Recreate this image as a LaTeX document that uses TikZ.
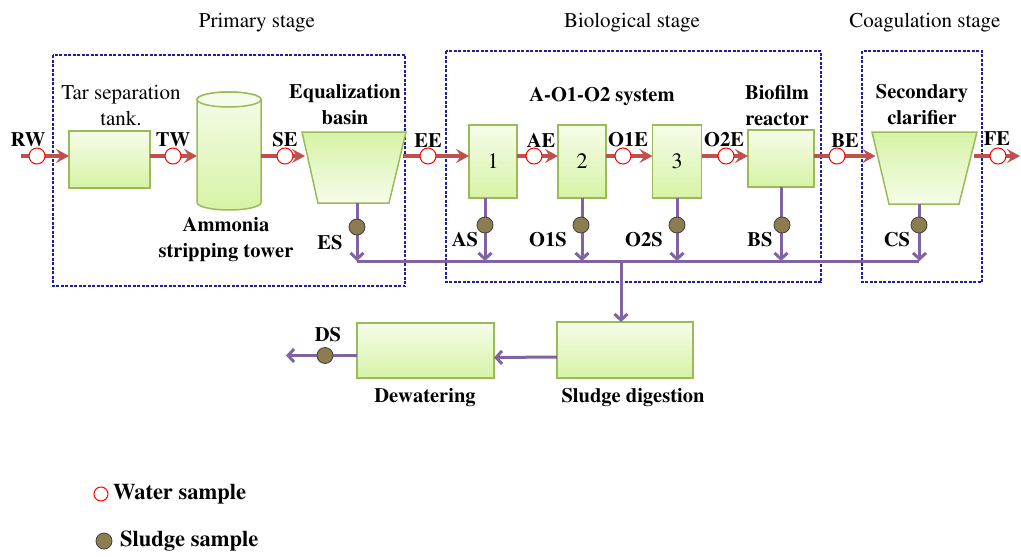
\documentclass[tikz,border=0pt]{standalone}
\usepackage[T1]{fontenc}
\renewcommand{\rmdefault}{ptm}
\usetikzlibrary{arrows.meta}
\definecolor{greenlight}{RGB}{246,252,234}
\definecolor{greenmid}{RGB}{214,243,165}
\definecolor{boxedge}{RGB}{155,187,89}
\definecolor{waterred}{RGB}{192,80,77}
\definecolor{sludgepurple}{RGB}{128,100,162}
\definecolor{sludgedot}{RGB}{139,125,80}
\definecolor{stageblue}{RGB}{30,30,160}
\tikzset{
unit/.style={draw=boxedge, line width=1.5pt, top color=greenlight, bottom color=greenmid, inner sep=0pt, outer sep=0pt},
basin/.style={draw=boxedge, line width=1.5pt, top color=greenmid, bottom color=greenlight},
anchorbox/.style={inner sep=0pt, outer sep=0pt},
water/.style={draw=waterred, line width=3.5pt, -{Stealth[length=13pt,width=14pt,inset=5pt]}},
sludge/.style={draw=sludgepurple, line width=3pt},
sludgeflow/.style={sludge, -{Straight Barb[length=6pt,width=13pt]}},
wsample/.style={circle, draw=red, fill=white, line width=1pt, minimum size=16pt, inner sep=0pt},
ssample/.style={circle, draw=black!75, fill=sludgedot, line width=0.8pt, minimum size=16pt, inner sep=0pt},
stage/.style={draw=stageblue, line width=1.3pt, dash pattern=on 3pt off 1.5pt},
tag/.style={font=\fontsize{20.5}{26}\selectfont\bfseries, inner sep=0pt, align=center},
plaintag/.style={font=\fontsize{21}{26}\selectfont, inner sep=0pt, align=center}
}

\begin{document}
\begin{tikzpicture}[x=1pt,y=1pt,yscale=-1,xscale=1]
\useasboundingbox (0,0) rectangle (1021,557);

% stage frames
\draw[stage] (53,55) rectangle (405,286);
\draw[stage] (446,51) rectangle (821,282);
\draw[stage] (862,51) rectangle (982,282);
\node[plaintag] (primary) at (257,23) {Primary stage};
\node[plaintag] (biological) at (632,23) {Biological stage};
\node[plaintag] (coagulation) at (925,23) {Coagulation stage};

% units
\node[unit, minimum width=81pt, minimum height=57pt] (tar) at (109.5,159.5) {};
% ammonia stripping tower
\path[unit] (197,99.5) -- (197,202.5) arc[start angle=180, end angle=0, x radius=32, y radius=7.5] -- (261,99.5) arc[start angle=0, end angle=-180, x radius=32, y radius=7.5] -- cycle;
\draw[draw=boxedge, line width=1.5pt, fill=greenlight] (229,99.5) ellipse [x radius=32, y radius=7.5];
\node[anchorbox, minimum width=64pt, minimum height=118pt] (tower) at (229,151) {};
% equalization basin
\path[basin] (302,132) -- (406,132) -- (389,203) -- (318,203) -- cycle;
\node[anchorbox, minimum width=98pt, minimum height=71pt] (eq) at (354,167.5) {};
\node[unit, minimum width=48pt, minimum height=73pt, font=\fontsize{22}{26}\selectfont] (a1) at (493,161.5) {1};
\node[unit, minimum width=48pt, minimum height=73pt, font=\fontsize{22}{26}\selectfont] (o1) at (582,161.5) {2};
\node[unit, minimum width=49pt, minimum height=73pt, font=\fontsize{22}{26}\selectfont] (o2) at (677,161.5) {3};
\node[unit, minimum width=66pt, minimum height=57pt] (bio) at (781,158.5) {};
% secondary clarifier
\path[basin] (872,132) -- (977,132) -- (959,204) -- (889,204) -- cycle;
\node[anchorbox, minimum width=98pt, minimum height=72pt] (sc) at (924.5,168) {};
\node[unit, minimum width=137pt, minimum height=55pt] (dw) at (425.5,350.5) {};
\node[unit, minimum width=136pt, minimum height=56pt] (dg) at (625,350) {};

% unit names
\node[plaintag] (tartxt) at (121,105) {Tar separation\\tank.};
\node[tag] (towertxt) at (226,240) {Ammonia\\stripping tower};
\node[tag] (eqtxt) at (345,105) {Equalization\\basin};
\node[tag] (aootxt) at (602,97) {A-O1-O2 system};
\node[tag] (biotxt) at (777,105.5) {Biofilm\\reactor};
\node[tag] (sctxt) at (922,105) {Secondary\\clarifier};
\node[tag] (dwtxt) at (425,398) {Dewatering};
\node[tag] (dgtxt) at (633,398) {Sludge digestion};

% water line
\coordinate (rw-in) at (21,156);
\coordinate (fe-out) at (1020,156);
\draw[water] (rw-in) -- (rw-in -| tar.west);
\draw[water] (tar.east |- rw-in) -- (tower.west |- rw-in);
\draw[water] (tower.east |- rw-in) -- (eq.west |- rw-in);
\draw[water] (eq.east |- rw-in) -- (a1.west |- rw-in);
\draw[water] (a1.east |- rw-in) -- (o1.west |- rw-in);
\draw[water] (o1.east |- rw-in) -- (o2.west |- rw-in);
\draw[water] (o2.east |- rw-in) -- (bio.west |- rw-in);
\draw[water] (bio.east |- rw-in) -- (sc.west |- rw-in);
\draw[water] (sc.east |- rw-in) -- (fe-out);

% sludge line
\coordinate (cl) at (357,261);
\coordinate (cr) at (919,261);
\coordinate (hub) at (621,261);
\coordinate (ds-out) at (286,355.5);
\draw[sludge] (cl) -- (cr);
\draw[sludgeflow] ([xshift=3]eq.south) -- ([xshift=3]eq.south |- cl);
\draw[sludgeflow] ([xshift=-8]a1.south) -- ([xshift=-8]a1.south |- cl);
\draw[sludgeflow] (o1.south) -- (o1.south |- cl);
\draw[sludgeflow] (o2.south) -- (o2.south |- cl);
\draw[sludgeflow] (bio.south) -- (bio.south |- cl);
\draw[sludgeflow] ([xshift=-5]sc.south) -- ([xshift=-5]sc.south |- cl);
\draw[sludgeflow] (hub) -- (hub |- dg.north);
\draw[sludgeflow] ([yshift=7]dg.west) -- ([yshift=7]dw.east);
\draw[sludgeflow] ([yshift=5]dw.west) -- (ds-out);

% water samples
\node[wsample] (rw) at (37,156) {};
\node[wsample] (tw) at (173,156) {};
\node[wsample] (se) at (285,156) {};
\node[wsample] (ee) at (428,156) {};
\node[wsample] (ae) at (534,156) {};
\node[wsample] (o1e) at (623,156) {};
\node[wsample] (o2e) at (726,156) {};
\node[wsample] (be) at (837,156) {};
\node[wsample] (fe) at (998,156) {};
\node[tag] (rwtxt) at (28,140) {RW};
\node[tag] (twtxt) at (173,140) {TW};
\node[tag] (setxt) at (285,140) {SE};
\node[tag] (eetxt) at (428,140) {EE};
\node[tag] (aetxt) at (541,140) {AE};
\node[tag] (o1etxt) at (628,140) {O1E};
\node[tag] (o2etxt) at (724,140) {O2E};
\node[tag] (betxt) at (845,140) {BE};
\node[tag] (fetxt) at (997,138) {FE};

% sludge samples
\node[ssample] (es) at (357,227) {};
\node[ssample] (as) at (485,225) {};
\node[ssample] (o1s) at (581,225) {};
\node[ssample] (o2s) at (677,225) {};
\node[ssample] (bs) at (782,225) {};
\node[ssample] (cs) at (919,225) {};
\node[ssample] (ds) at (325,355.5) {};
\node[tag] (estxt) at (330,243) {ES};
\node[tag] (astxt) at (465,240) {AS};
\node[tag] (o1stxt) at (548,240) {O1S};
\node[tag] (o2stxt) at (644,240) {O2S};
\node[tag] (bstxt) at (760,240) {BS};
\node[tag] (cstxt) at (897,240) {CS};
\node[tag] (dstxt) at (328,335) {DS};

% legend
\node[wsample, minimum size=14pt] (wleg) at (101,494) {};
\node[tag, font=\fontsize{22.5}{26}\selectfont\bfseries, anchor=west] (wlegtxt) at (113,494) {Water sample};
\node[ssample] (sleg) at (104,541) {};
\node[tag, font=\fontsize{22.5}{26}\selectfont\bfseries, anchor=west] (slegtxt) at (120,541) {Sludge sample};
\end{tikzpicture}
\end{document}
